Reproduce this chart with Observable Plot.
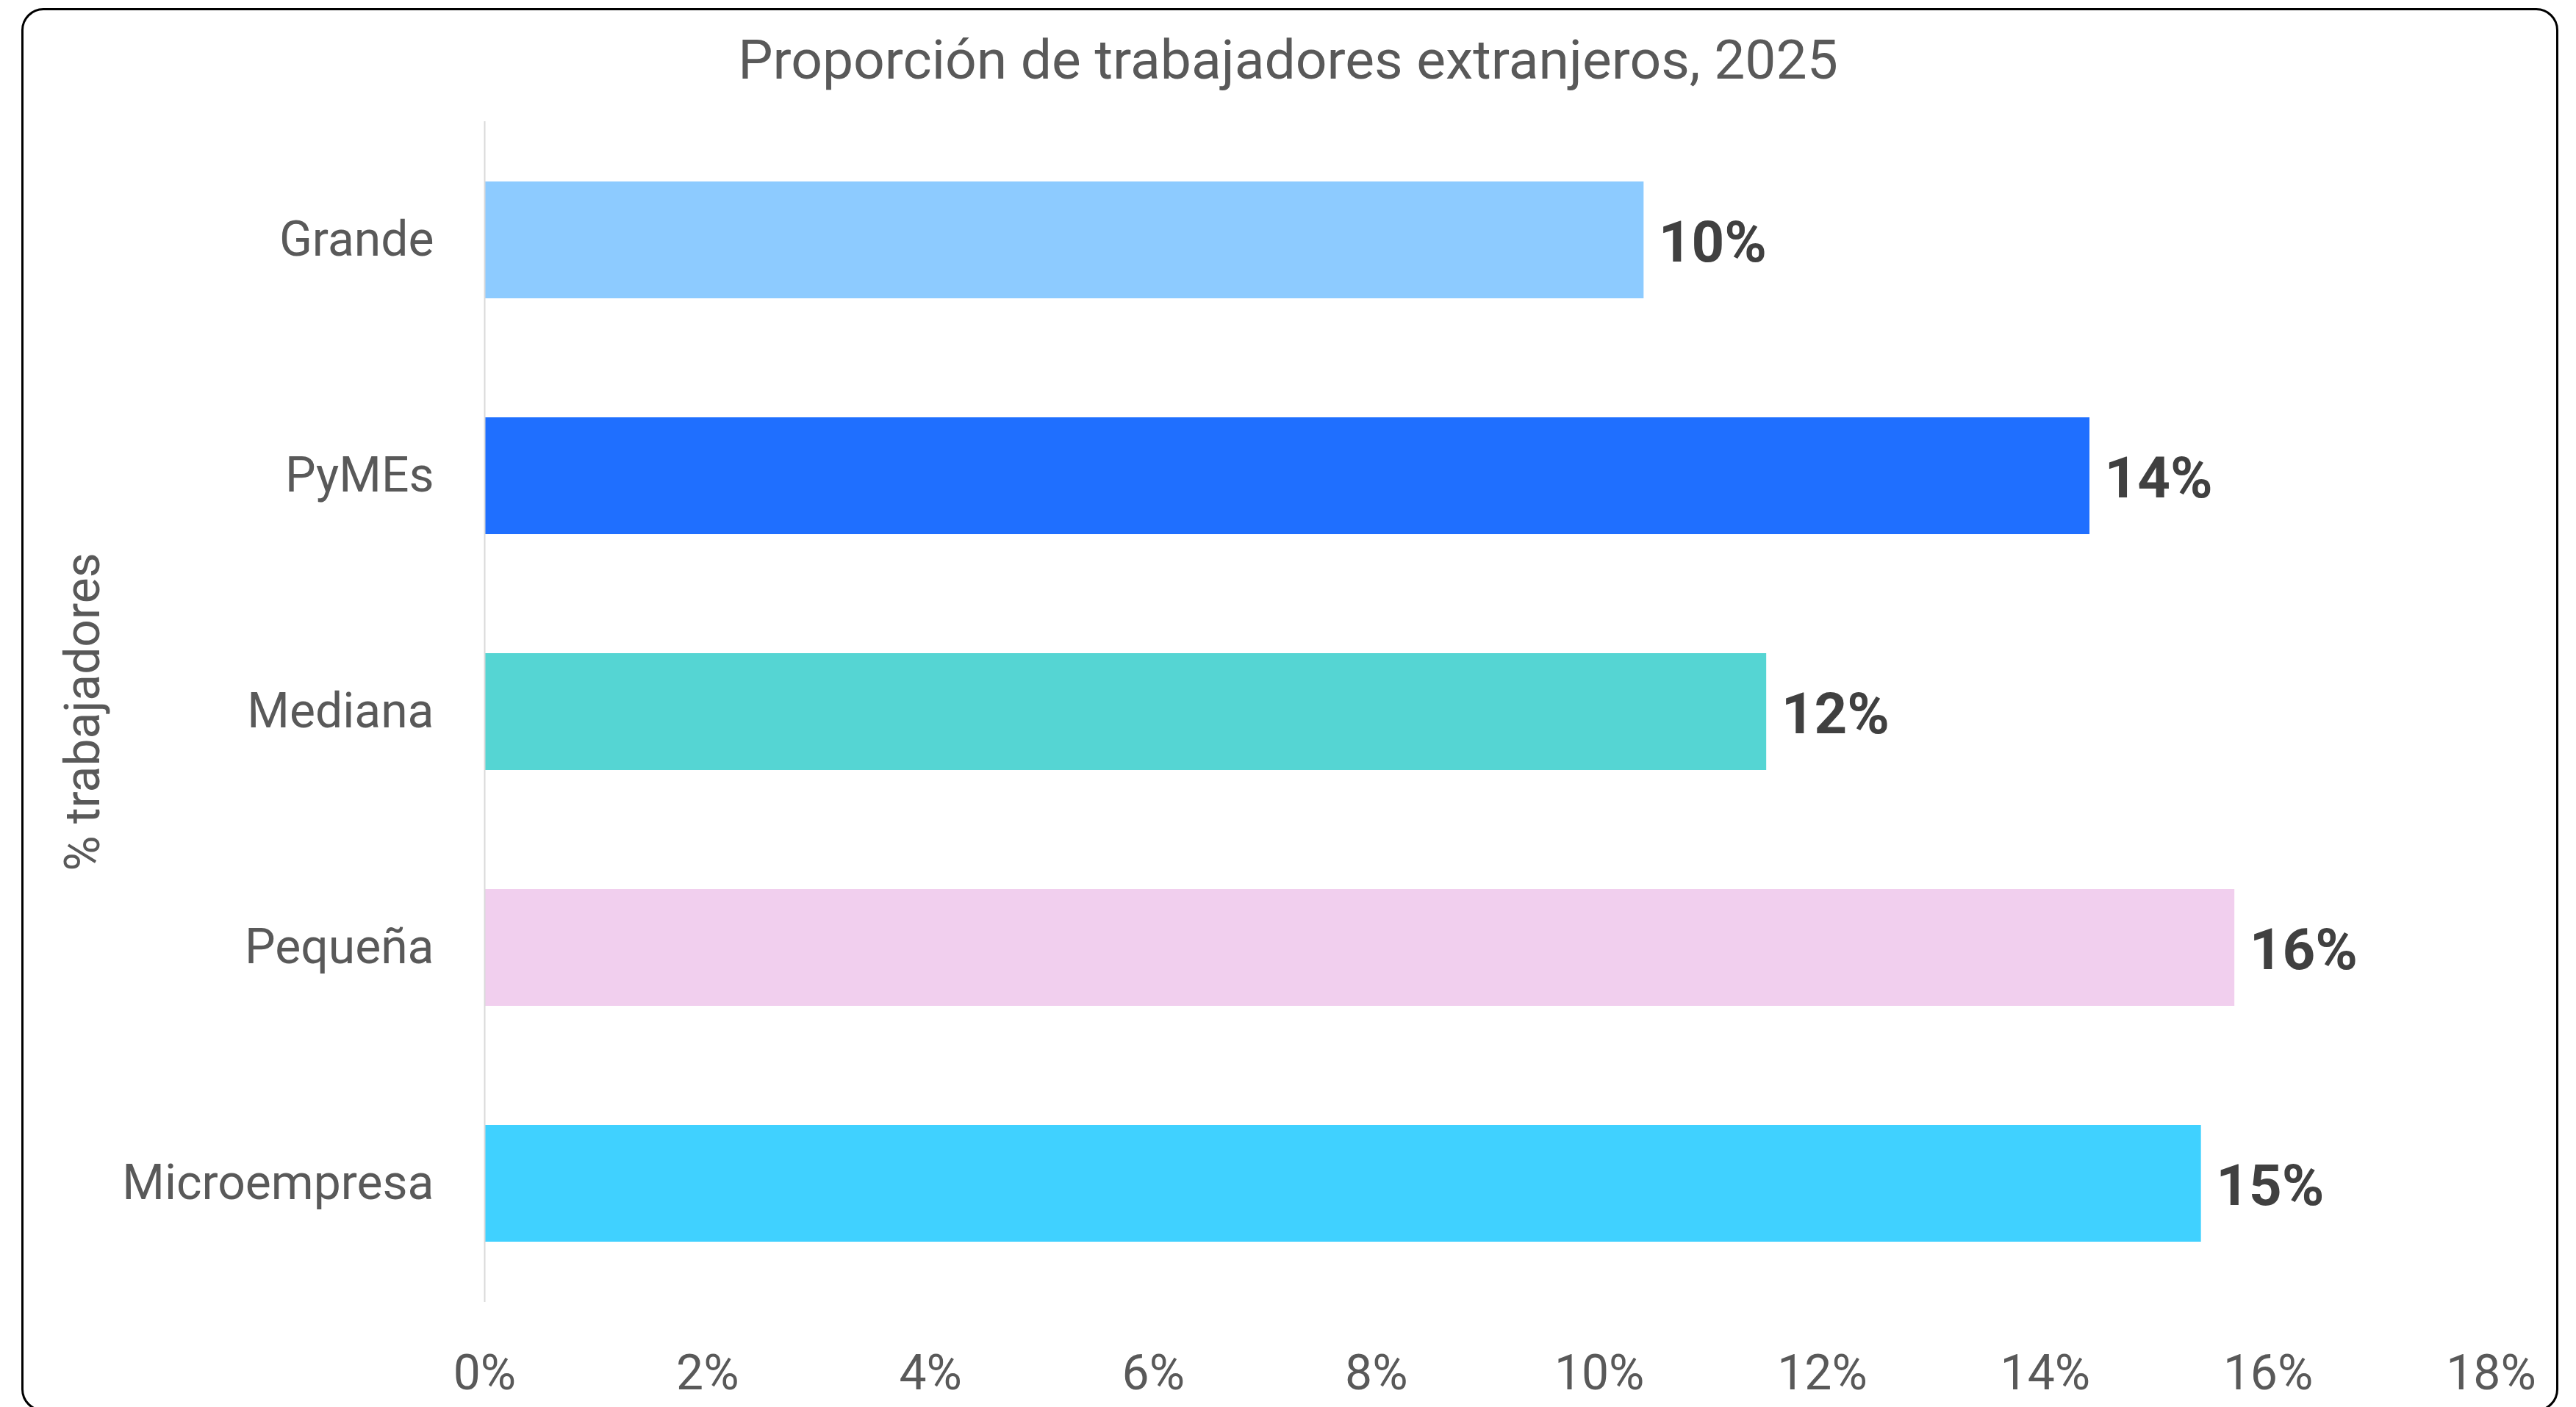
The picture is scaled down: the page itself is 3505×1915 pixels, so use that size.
<!DOCTYPE html>
<html>
<head>
<meta charset="utf-8">
<script src="https://cdn.jsdelivr.net/npm/d3@7"></script>
<script src="https://cdn.jsdelivr.net/npm/@observablehq/plot@0.6"></script>
<style>
  html, body { margin: 0; padding: 0; background: #fff; }
  #wrap { position: relative; width: 3505px; height: 1915px; overflow: hidden; font-family: Roboto, "Noto Sans", sans-serif; }
  #frame { position: absolute; left: 29px; top: 11px; width: 3452px; height: 1910px; border: 3px solid #000; border-radius: 30px; box-sizing: border-box; pointer-events: none; }
  #title { position: absolute; left: 0; top: 44px; width: 3505px; text-align: center; font-size: 75px; line-height: 75px; color: #595959; }
  #chart { position: absolute; left: 0; top: 140px; }
</style>
</head>
<body>
<div id="wrap">
  <div id="title">Proporción de trabajadores extranjeros, 2025</div>
  <div id="chart"></div>
  <div id="frame"></div>
</div>
<script>
const categories = ["Grande", "PyMEs", "Mediana", "Pequeña", "Microempresa"];
const values = [10.4, 14.4, 11.5, 15.7, 15.4];
const valueLabels = ["10%", "14%", "12%", "16%", "15%"];
const colors = ["#8DCBFF", "#1F6FFF", "#55D5D3", "#F1CFEE", "#40D1FF"];
const xTicks = [0, 2, 4, 6, 8, 10, 12, 14, 16, 18];
const yTitle = "% trabajadores";

const data = categories.map((c, i) => ({cat: c, value: values[i], label: valueLabels[i], color: colors[i]}));

const chart = Plot.plot({
  width: 3505,
  height: 1775,
  marginTop: 25,
  marginBottom: 143,
  marginLeft: 659,
  marginRight: 116,
  style: {fontFamily: "Roboto, 'Noto Sans', sans-serif", background: "transparent", overflow: "visible"},
  x: {domain: [0, 18], ticks: xTicks, tickFormat: d => d + "%"},
  y: {domain: categories, paddingInner: 0.505, paddingOuter: 0.2525},
  color: {type: "identity"},
  marks: [
    Plot.axisX({ticks: xTicks, tickFormat: d => d + "%", tickSize: 0, tickPadding: 72, fontSize: 66, fill: "#595959", label: null}),
    Plot.axisY({tickSize: 0, tickPadding: 69, fontSize: 66, fill: "#595959", label: yTitle, labelAnchor: "center", labelArrow: "none", labelOffset: 571}),
    Plot.barX(data, {x: "value", y: "cat", fill: "color"}),
    Plot.ruleX([0], {stroke: "#D9D9D9", strokeWidth: 2}),
    Plot.text(data, {x: "value", y: "cat", text: "label", textAnchor: "start", dx: 20, dy: 4, fontSize: 78, fontWeight: "bold", fill: "#404040"})
  ]
});
document.getElementById("chart").appendChild(chart);
</script>
</body>
</html>
